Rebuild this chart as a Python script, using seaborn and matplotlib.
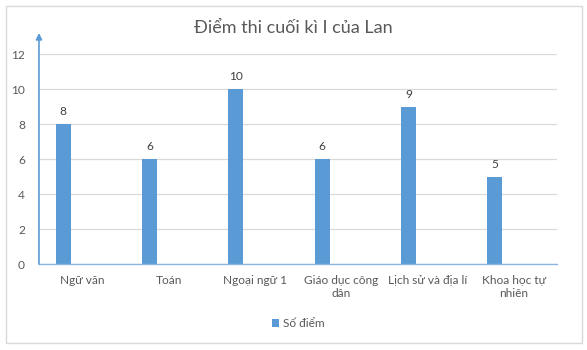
import matplotlib
matplotlib.use("Agg")
import matplotlib.pyplot as plt
import seaborn as sns
import pandas as pd
from matplotlib.patches import Rectangle

categories = ["Ngữ văn", "Toán", "Ngoại ngữ 1", "Giáo dục công\ndân",
              "Lịch sử và địa lí", "Khoa học tự\nnhiên"]
scores = [8, 6, 10, 6, 9, 5]
series_name = "Số điểm"
title = "Điểm thi cuối kì I của Lan"
yticks = [0, 2, 4, 6, 8, 10, 12]

sns.set_theme(style="white")
plt.rcParams["font.family"] = ["Lato", "DejaVu Sans"]

BLUE = "#5B9BD5"
GRAY_TXT = "#595959"

df = pd.DataFrame({"category": categories, "score": scores})

fig = plt.figure(figsize=(5.87, 3.5), dpi=100)
ax = fig.add_axes([0.0664, 0.2457, 0.8826, 0.6])

sns.barplot(data=df, x="category", y="score", color=BLUE, width=0.174,
            saturation=1, ax=ax, label=series_name, zorder=3)

shift = -0.22
for p in ax.patches:
    p.set_x(p.get_x() + shift)
    p.set_edgecolor("none")

ax.bar_label(ax.containers[0], padding=5, fontsize=8.6, color="#404040")

ax.set_xlim(-0.5, len(categories) - 0.5)
ax.set_ylim(0, 12)
ax.set_yticks(yticks)
ax.yaxis.grid(True, color="#D9D9D9", linewidth=0.9, zorder=0)
ax.set_xlabel("")
ax.set_ylabel("")
for s in ["top", "right", "left"]:
    ax.spines[s].set_visible(False)
ax.spines["bottom"].set_color("#8EB4E3")
ax.spines["bottom"].set_linewidth(1.0)
ax.spines["bottom"].set_zorder(4)
ax.tick_params(axis="both", length=0, labelsize=8.6, colors=GRAY_TXT)
ax.tick_params(axis="x", pad=8)
ax.tick_params(axis="y", pad=10)
for t in ax.get_xticklabels():
    t.set_multialignment("center")

ax.annotate("", xy=(-0.5, 13.2), xytext=(-0.5, 0), xycoords="data",
            arrowprops=dict(arrowstyle="-|>", color=BLUE, lw=1.2,
                            mutation_scale=9, shrinkA=0, shrinkB=0),
            annotation_clip=False, zorder=5)

fig.text(0.5, 0.92, title, ha="center", va="center", fontsize=13,
         color=GRAY_TXT)

leg = ax.legend(loc="center", bbox_to_anchor=(0.5, -0.285), frameon=False,
                fontsize=8.6, handlelength=0.6, handleheight=0.6,
                handletextpad=0.3)
for t in leg.get_texts():
    t.set_color(GRAY_TXT)

fig.patches.append(Rectangle((6 / 587, 1 - 343 / 350), 576 / 587, 337 / 350,
                             transform=fig.transFigure, fill=False,
                             edgecolor="#D9D9D9", linewidth=1.0))

fig.savefig("out.png", dpi=100)
